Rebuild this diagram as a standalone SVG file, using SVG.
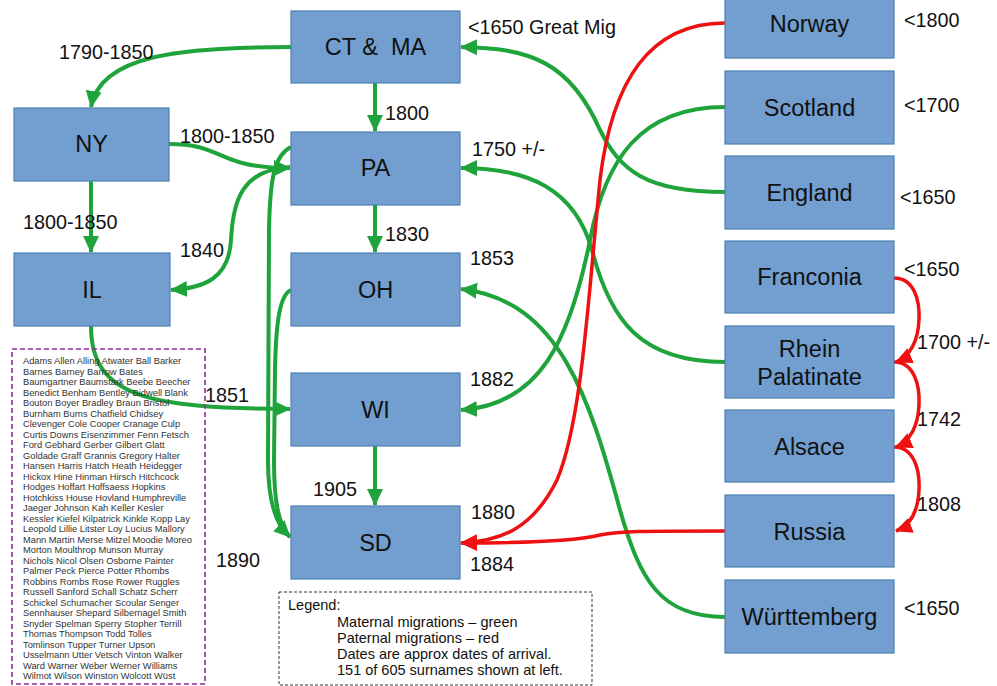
<svg xmlns="http://www.w3.org/2000/svg" width="997" height="686" viewBox="0 0 997 686">
<defs>
<style>
.box{fill:#729fcf;stroke:#4f7fb3;stroke-width:1.2}
.nt{font-family:"Liberation Sans",Arial,sans-serif;font-size:23.5px;fill:#111;text-anchor:middle}
.dt{font-family:"Liberation Sans",Arial,sans-serif;font-size:19.8px;fill:#111}
.g{fill:none;stroke:#1fa33b;stroke-width:4}
.r{fill:none;stroke:#ee1111;stroke-width:3.5}
.sn{font-family:"Liberation Sans",Arial,sans-serif;font-size:9.3px;fill:#333}
.lg{font-family:"Liberation Sans",Arial,sans-serif;font-size:14.5px;fill:#111}
</style>
<marker id="ag" markerUnits="userSpaceOnUse" markerWidth="18" markerHeight="18" viewBox="0 0 18 18" refX="16" refY="9" orient="auto">
<path d="M0,1 L17,9 L0,17 Z" fill="#1fa33b"/>
</marker>
<marker id="ar" markerUnits="userSpaceOnUse" markerWidth="18" markerHeight="18" viewBox="0 0 18 18" refX="16" refY="9" orient="auto">
<path d="M0,1 L17,9 L0,17 Z" fill="#ee1111"/>
</marker>
</defs>
<rect width="997" height="686" fill="#ffffff"/>

<g id="connectors">
<path class="g" marker-end="url(#ag)" d="M291,47 C180,47 100,55 91,107"/>
<path class="g" marker-end="url(#ag)" d="M375,83 L375,131"/>
<path class="g" marker-end="url(#ag)" d="M169,144 C225,144 215,168 290,168"/>
<path class="g" marker-end="url(#ag)" d="M290,167 C242,170 233,200 231,240 C229,278 205,288 171,290"/>
<path class="g" marker-end="url(#ag)" d="M91,181 L91,252"/>
<path class="g" marker-end="url(#ag)" d="M91,326 C91,398 150,408 290,409"/>
<path class="g" d="M291,147 C275,155 270,175 269,230 L268,460 C268,500 275,525 290,537"/>
<path class="g" marker-end="url(#ag)" d="M291,290 C280,295 276,320 275,370 L274,460 C274,500 278,525 290,537"/>
<path class="g" marker-end="url(#ag)" d="M375,205 L375,252"/>
<path class="g" marker-end="url(#ag)" d="M375,446 L375,505"/>
<path class="g" marker-end="url(#ag)" d="M725,192 C645,192 620,170 600,130 C570,62 530,48 461,47"/>
<path class="g" marker-end="url(#ag)" d="M725,107 C640,107 605,160 590,240 C570,340 540,405 461,410"/>
<path class="g" marker-end="url(#ag)" d="M725,362 C640,362 610,320 592,250 C575,190 530,168 461,168"/>
<path class="g" marker-end="url(#ag)" d="M725,617 C660,617 640,580 620,510 C590,400 560,300 461,289"/>
<path class="r" marker-end="url(#ar)" d="M725,23 C650,23 612,80 600,180 C588,300 582,420 557,480 C532,530 500,541 461,543"/>
<path class="r" marker-end="url(#ar)" d="M725,531 C640,531 620,531 600,535 C580,540 540,543 461,543"/>
<path class="r" marker-end="url(#ar)" d="M894,278 C914,278 920,300 919,320 C918,340 912,355 896,362"/>
<path class="r" marker-end="url(#ar)" d="M894,362 C914,362 920,385 919,405 C918,425 912,440 896,447"/>
<path class="r" marker-end="url(#ar)" d="M894,447 C914,447 920,470 919,490 C918,510 912,525 896,531"/>
</g>

<g id="n-ctma"><rect class="box" x="291" y="11" width="169" height="72"/><text class="nt" x="375.5" y="55">CT &amp;&#160; MA</text></g>
<g id="n-ny"><rect class="box" x="14" y="108" width="155" height="73"/><text class="nt" x="91.5" y="152">NY</text></g>
<g id="n-pa"><rect class="box" x="291" y="132" width="169" height="73"/><text class="nt" x="375.5" y="176">PA</text></g>
<g id="n-il"><rect class="box" x="14" y="253" width="156" height="73"/><text class="nt" x="92" y="298">IL</text></g>
<g id="n-oh"><rect class="box" x="291" y="253" width="169" height="73"/><text class="nt" x="375.5" y="298">OH</text></g>
<g id="n-wi"><rect class="box" x="291" y="373" width="169" height="73"/><text class="nt" x="375.5" y="418">WI</text></g>
<g id="n-sd"><rect class="box" x="291" y="506" width="169" height="73"/><text class="nt" x="375.5" y="551">SD</text></g>
<g id="n-norway"><rect class="box" x="725" y="-14" width="169" height="72"/><text class="nt" x="809.5" y="32">Norway</text></g>
<g id="n-scotland"><rect class="box" x="725" y="71" width="169" height="73"/><text class="nt" x="809.5" y="116">Scotland</text></g>
<g id="n-england"><rect class="box" x="725" y="156" width="169" height="73"/><text class="nt" x="809.5" y="201">England</text></g>
<g id="n-franconia"><rect class="box" x="725" y="241" width="169" height="72"/><text class="nt" x="809.5" y="285">Franconia</text></g>
<g id="n-rhein"><rect class="box" x="725" y="326" width="169" height="72"/><text class="nt" x="809.5" y="357">Rhein</text><text class="nt" x="809.5" y="385">Palatinate</text></g>
<g id="n-alsace"><rect class="box" x="725" y="410" width="169" height="72"/><text class="nt" x="809.5" y="455">Alsace</text></g>
<g id="n-russia"><rect class="box" x="725" y="495" width="169" height="72"/><text class="nt" x="809.5" y="540">Russia</text></g>
<g id="n-wurttemberg"><rect class="box" x="725" y="580" width="169" height="73"/><text class="nt" x="809.5" y="625">Württemberg</text></g>

<g id="dates">
<text class="dt" x="59" y="59">1790-1850</text>
<text class="dt" x="468" y="34">&lt;1650 Great Mig</text>
<text class="dt" x="385" y="120">1800</text>
<text class="dt" x="180" y="143">1800-1850</text>
<text class="dt" x="472" y="156">1750 +/-</text>
<text class="dt" x="23" y="229">1800-1850</text>
<text class="dt" x="180" y="257">1840</text>
<text class="dt" x="385" y="241">1830</text>
<text class="dt" x="470" y="265">1853</text>
<text class="dt" x="205" y="402">1851</text>
<text class="dt" x="470" y="386">1882</text>
<text class="dt" x="313" y="496">1905</text>
<text class="dt" x="471" y="519">1880</text>
<text class="dt" x="470" y="571">1884</text>
<text class="dt" x="216" y="567">1890</text>
<text class="dt" x="904" y="27">&lt;1800</text>
<text class="dt" x="904" y="112">&lt;1700</text>
<text class="dt" x="900" y="204">&lt;1650</text>
<text class="dt" x="904" y="276">&lt;1650</text>
<text class="dt" x="917" y="349">1700 +/-</text>
<text class="dt" x="917" y="426">1742</text>
<text class="dt" x="917" y="511">1808</text>
<text class="dt" x="904" y="615">&lt;1650</text>
</g>

<g id="surnames">
<rect x="12" y="349" width="193" height="335" fill="none" stroke="#8e2c9c" stroke-width="1.6" stroke-dasharray="5,3"/>
<text class="sn" x="23" y="364">Adams Allen Alling Atwater Ball Barker</text>
<text class="sn" x="23" y="374.5">Barnes Barney Barrow Bates</text>
<text class="sn" x="23" y="385">Baumgartner Baumstark Beebe Beecher</text>
<text class="sn" x="23" y="395.5">Benedict Benham Bentley Bidwell Blank</text>
<text class="sn" x="23" y="406">Bouton Boyer Bradley Braun Bristol</text>
<text class="sn" x="23" y="416.5">Burnham Burns Chatfield Chidsey</text>
<text class="sn" x="23" y="427">Clevenger Cole Cooper Cranage Culp</text>
<text class="sn" x="23" y="437.5">Curtis Downs Eisenzimmer Fenn Fetsch</text>
<text class="sn" x="23" y="448">Ford Gebhard Gerber Gilbert Glatt</text>
<text class="sn" x="23" y="458.5">Goldade Graff Grannis Gregory Halter</text>
<text class="sn" x="23" y="469">Hansen Harris Hatch Heath Heidegger</text>
<text class="sn" x="23" y="479.5">Hickox Hine Hinman Hirsch Hitchcock</text>
<text class="sn" x="23" y="490">Hodges Hoffart Hoffsaess Hopkins</text>
<text class="sn" x="23" y="500.5">Hotchkiss House Hovland Humphreville</text>
<text class="sn" x="23" y="511">Jaeger Johnson Kah Keller Kesler</text>
<text class="sn" x="23" y="521.5">Kessler Kiefel Kilpatrick Kinkle Kopp Lay</text>
<text class="sn" x="23" y="532">Leopold Lillie Litster Loy Lucius Mallory</text>
<text class="sn" x="23" y="542.5">Mann Martin Merse Mitzel Moodie Moreo</text>
<text class="sn" x="23" y="553">Morton Moulthrop Munson Murray</text>
<text class="sn" x="23" y="563.5">Nichols Nicol Olsen Osborne Painter</text>
<text class="sn" x="23" y="574">Palmer Peck Pierce Potter Rhombs</text>
<text class="sn" x="23" y="584.5">Robbins Rombs Rose Rower Ruggles</text>
<text class="sn" x="23" y="595">Russell Sanford Schall Schatz Scherr</text>
<text class="sn" x="23" y="605.5">Schickel Schumacher Scoular Senger</text>
<text class="sn" x="23" y="616">Sennhauser Shepard Silbernagel Smith</text>
<text class="sn" x="23" y="626.5">Snyder Spelman Sperry Stopher Terrill</text>
<text class="sn" x="23" y="637">Thomas Thompson Todd Tolles</text>
<text class="sn" x="23" y="647.5">Tomlinson Tupper Turner Upson</text>
<text class="sn" x="23" y="658">Usselmann Utter Vetsch Vinton Walker</text>
<text class="sn" x="23" y="668.5">Ward Warner Weber Werner Williams</text>
<text class="sn" x="23" y="679">Wilmot Wilson Winston Wolcott Wüst</text>
</g>

<g id="legend">
<rect x="279" y="592" width="313" height="93" fill="none" stroke="#333" stroke-width="1" stroke-dasharray="3,2"/>
<text class="lg" x="288" y="610">Legend:</text>
<text class="lg" x="337" y="627">Maternal migrations – green</text>
<text class="lg" x="337" y="643">Paternal migrations – red</text>
<text class="lg" x="337" y="659">Dates are approx dates of arrival.</text>
<text class="lg" x="337" y="675">151 of 605 surnames shown at left.</text>
</g>
</svg>
